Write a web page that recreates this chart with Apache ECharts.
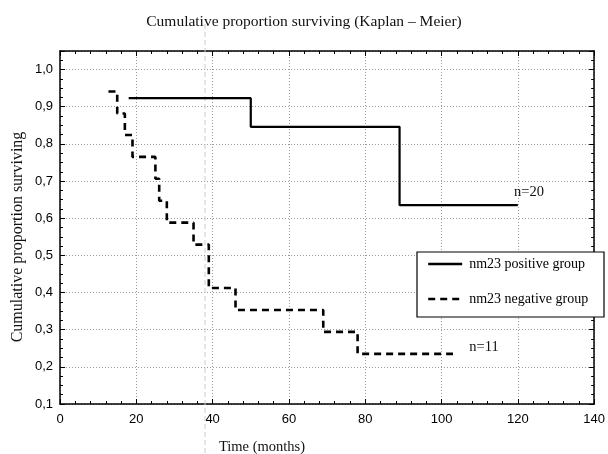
<!DOCTYPE html>
<html>
<head>
<meta charset="utf-8">
<script src="https://cdn.jsdelivr.net/npm/echarts@6/dist/echarts.min.js"></script>
<style>html,body{margin:0;padding:0;background:#fff;}#c{width:608px;height:454px;}</style>
</head>
<body>
<div id="c"></div>
<script>
// Data
const posTime = [18, 50, 89, 120];
const posSurv = [0.923, 0.846, 0.635, 0.635];
const negTime = [12.7, 15, 17, 19, 25, 26, 28, 35, 39, 46, 69, 78, 103];
const negSurv = [0.941, 0.882, 0.824, 0.765, 0.706, 0.647, 0.588, 0.529, 0.412, 0.353, 0.294, 0.235, 0.235];
const seriesNames = ['nm23 positive group', 'nm23 negative group'];
const groupSizes = ['n=20', 'n=11'];
const xTicks = [0, 20, 40, 60, 80, 100, 120, 140];
const yTicks = [0.1, 0.2, 0.3, 0.4, 0.5, 0.6, 0.7, 0.8, 0.9, 1.0];

const SERIF = 'Liberation Serif, Times New Roman, serif';
const SANS = 'Liberation Sans, Arial, sans-serif';

const chart = echarts.init(document.getElementById('c'), null, {renderer: 'canvas'});

function yFmt(v) {
  const r = Math.round(v * 10) / 10;
  if (Math.abs(v - r) > 1e-6) return '';
  if (!yTicks.some(t => Math.abs(t - r) < 1e-6)) return '';
  return r.toFixed(1).replace('.', ',');
}

const axisLine = {show: true, onZero: false, lineStyle: {color: '#000', width: 1.5}};
const tick = {show: true, inside: true, length: 5, lineStyle: {color: '#000', width: 1}};
const splitLine = {show: true, lineStyle: {color: '#9a9a9a', width: 1, type: [1, 2]}};

const xBase = {type: 'value', min: xTicks[0], max: xTicks[xTicks.length - 1], interval: 20};
const yBase = {type: 'value', min: 0.1, max: 1.05, interval: 0.1};

const option = {
  backgroundColor: '#fff',
  animation: false,
  title: {
    text: 'Cumulative proportion surviving (Kaplan \u2013 Meier)',
    left: 'center', top: 9,
    textStyle: {fontFamily: SERIF, fontSize: 15.5, fontWeight: 'normal', color: '#111'}
  },
  grid: {left: 60, right: 9, top: 51, bottom: 50, containLabel: false},
  xAxis: [
    Object.assign({}, xBase, {
      position: 'bottom',
      axisLine: axisLine, axisTick: tick,
      minorTick: {show: true, splitNumber: 5, length: 3, lineStyle: {color: '#000', width: 1}},
      splitLine: splitLine,
      axisLabel: {show: true, margin: 9, fontFamily: SANS, fontSize: 13, color: '#000',
        formatter: v => xTicks.includes(v) ? String(v) : ''}
    }),
    Object.assign({}, xBase, {
      position: 'top',
      axisLine: axisLine, axisTick: tick,
      minorTick: {show: true, splitNumber: 5, length: 3, lineStyle: {color: '#000', width: 1}},
      splitLine: {show: false}, axisLabel: {show: false}
    })
  ],
  yAxis: [
    Object.assign({}, yBase, {
      position: 'left',
      axisLine: axisLine, axisTick: tick,
      minorTick: {show: true, splitNumber: 4, length: 3, lineStyle: {color: '#000', width: 1}},
      splitLine: splitLine,
      axisLabel: {show: true, margin: 7, fontFamily: SANS, fontSize: 13, color: '#000', formatter: yFmt}
    }),
    Object.assign({}, yBase, {
      position: 'right',
      axisLine: axisLine, axisTick: tick,
      minorTick: {show: true, splitNumber: 4, length: 3, lineStyle: {color: '#000', width: 1}},
      splitLine: {show: false}, axisLabel: {show: false}
    })
  ],
  legend: {
    show: true, orient: 'vertical', left: 427, top: 257, z: 20,
    itemWidth: 34, itemHeight: 14, itemGap: 21, padding: 0,
    data: seriesNames,
    itemStyle: {opacity: 0, borderWidth: 0},
    lineStyle: {width: 2.4},
    textStyle: {fontFamily: SERIF, fontSize: 14, color: '#000', padding: [0, 0, 0, 2]}
  },
  series: [
    {
      name: seriesNames[0], type: 'line', step: 'end', symbol: 'none', z: 5,
      xAxisIndex: 0, yAxisIndex: 0,
      data: posTime.map((t, i) => [t, posSurv[i]]),
      lineStyle: {color: '#000', width: 2.2, type: 'solid'},
      itemStyle: {color: '#000'}
    },
    {
      name: seriesNames[1], type: 'line', step: 'end', symbol: 'none', z: 5,
      xAxisIndex: 0, yAxisIndex: 0,
      data: negTime.map((t, i) => [t, negSurv[i]]),
      lineStyle: {color: '#000', width: 2.6, type: [7, 5]},
      itemStyle: {color: '#000'}
    }
  ],
  graphic: [
    {type: 'line', z: 1, silent: true,
      shape: {x1: 205, y1: 24, x2: 205, y2: 454},
      style: {stroke: '#cccccc', lineWidth: 1, lineDash: [5, 3]}},
    {type: 'rect', z: 15, silent: true,
      shape: {x: 417, y: 252, width: 187, height: 65},
      style: {fill: '#fff', stroke: '#000', lineWidth: 1.2}},
    {type: 'text', z: 20, silent: true, x: 18, y: 237, rotation: Math.PI / 2,
      style: {text: 'Cumulative proportion surviving', fontFamily: SERIF, fontSize: 16,
        fill: '#111', textAlign: 'center', textVerticalAlign: 'middle'}},
    {type: 'text', z: 20, silent: true, x: 262, y: 447,
      style: {text: 'Time (months)', fontFamily: SERIF, fontSize: 14.5,
        fill: '#111', textAlign: 'center', textVerticalAlign: 'middle'}},
    {type: 'text', z: 20, silent: true, x: 529, y: 192,
      style: {text: groupSizes[0], fontFamily: SERIF, fontSize: 14.5,
        fill: '#111', textAlign: 'center', textVerticalAlign: 'middle'}},
    {type: 'text', z: 20, silent: true, x: 484, y: 347,
      style: {text: groupSizes[1], fontFamily: SERIF, fontSize: 14.5,
        fill: '#111', textAlign: 'center', textVerticalAlign: 'middle'}}
  ]
};
chart.setOption(option);
</script>
</body>
</html>
